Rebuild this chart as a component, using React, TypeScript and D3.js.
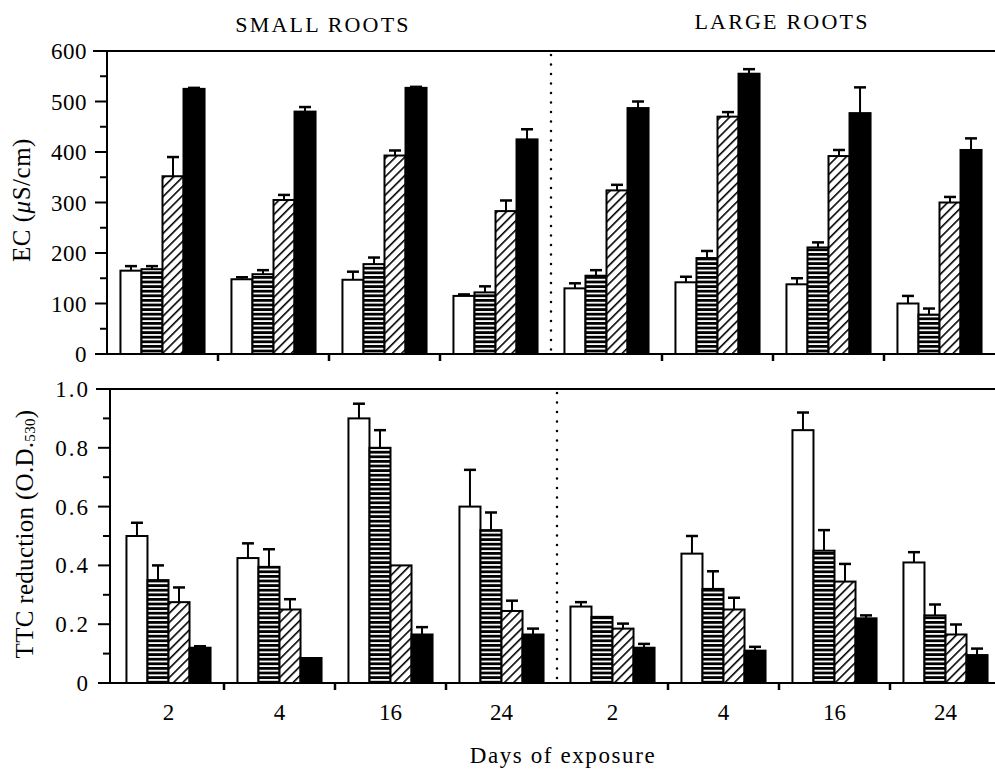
import React from "react";
import * as d3 from "d3";

const days = ["2", "4", "16", "24"];
const rootSizes = ["SMALL ROOTS", "LARGE ROOTS"];
const treatments = ["open", "lined", "hatched", "solid"];

// EC, small roots (2,4,16,24) then large roots (2,4,16,24)
const ecOpen = [165, 148, 147, 115, 130, 142, 138, 100];
const ecOpenErr = [9, 4, 16, 3, 10, 11, 12, 15];
const ecLined = [168, 158, 178, 122, 155, 190, 211, 78];
const ecLinedErr = [6, 8, 13, 12, 11, 14, 10, 12];
const ecHatched = [352, 305, 393, 283, 324, 470, 392, 300];
const ecHatchedErr = [38, 10, 10, 21, 11, 9, 12, 11];
const ecSolid = [525, 480, 527, 425, 487, 555, 477, 404];
const ecSolidErr = [2, 9, 2, 20, 13, 9, 51, 23];

// TTC reduction
const ttcOpen = [0.5, 0.425, 0.9, 0.6, 0.26, 0.44, 0.86, 0.41];
const ttcOpenErr = [0.045, 0.05, 0.05, 0.125, 0.015, 0.06, 0.06, 0.035];
const ttcLined = [0.35, 0.395, 0.8, 0.52, 0.225, 0.32, 0.45, 0.23];
const ttcLinedErr = [0.05, 0.06, 0.06, 0.06, 0, 0.06, 0.07, 0.037];
const ttcHatched = [0.275, 0.25, 0.4, 0.245, 0.185, 0.25, 0.345, 0.165];
const ttcHatchedErr = [0.05, 0.035, 0, 0.035, 0.017, 0.04, 0.06, 0.034];
const ttcSolid = [0.12, 0.085, 0.165, 0.165, 0.12, 0.11, 0.22, 0.095];
const ttcSolidErr = [0.005, 0, 0.025, 0.02, 0.013, 0.013, 0.01, 0.022];

const ecTicks = [0, 100, 200, 300, 400, 500, 600];
const ecMinor = [50, 150, 250, 350, 450, 550];
const ttcTicks = [0, 0.2, 0.4, 0.6, 0.8, 1.0];
const ttcMinor = [0.1, 0.3, 0.5, 0.7, 0.9];

const W = 995;
const H = 769;
const FONT = "'Liberation Serif', 'Times New Roman', serif";
const fills: Record<string, string> = {
  open: "#fff",
  lined: "url(#lined)",
  hatched: "url(#hatched)",
  solid: "#000",
};

const groups = rootSizes.flatMap((r) => days.map((d) => `${r}|${d}`));

type Row = { key: string; t: string; v: number; e: number };

function rows(series: number[][], errs: number[][]): Row[] {
  const out: Row[] = [];
  groups.forEach((g, i) => {
    treatments.forEach((t, j) => {
      out.push({ key: g, t, v: series[j][i], e: errs[j][i] });
    });
  });
  return out;
}

function Panel({
  data,
  left,
  top,
  bottom,
  xRange,
  yMax,
  ticks,
  minor,
  fmt,
  spacing,
  showDays,
}: {
  data: Row[];
  left: number;
  top: number;
  bottom: number;
  xRange: [number, number];
  yMax: number;
  ticks: number[];
  minor: number[];
  fmt: (v: number) => string;
  spacing: number;
  showDays: boolean;
}) {
  const x0 = d3.scaleBand().domain(groups).range(xRange);
  const x1 = d3
    .scaleBand()
    .domain(treatments)
    .range([0, x0.bandwidth()])
    .paddingOuter(0.64)
    .paddingInner(0);
  const y = d3.scaleLinear().domain([0, yMax]).range([bottom, top]);
  const bw = x1.bandwidth();
  const mid = x0(groups[4])!;

  return (
    <g>
      {data.map((d, i) => {
        const bx = x0(d.key)! + x1(d.t)!;
        const cx = bx + bw / 2;
        return (
          <g key={i}>
            {d.e > 0 && (
              <g stroke="#000" strokeWidth={2}>
                <line x1={cx} x2={cx} y1={y(d.v)} y2={y(d.v + d.e)} />
                <line x1={cx - 6} x2={cx + 6} y1={y(d.v + d.e)} y2={y(d.v + d.e)} strokeWidth={2.5} />
              </g>
            )}
            <rect
              x={bx}
              y={y(d.v)}
              width={bw}
              height={y(0) - y(d.v)}
              fill={fills[d.t]}
              stroke="#000"
              strokeWidth={2}
            />
          </g>
        );
      })}
      {/* frame */}
      <line x1={left - 14} x2={W} y1={top} y2={top} stroke="#000" strokeWidth={2} />
      <line x1={left - 12} x2={W} y1={bottom} y2={bottom} stroke="#000" strokeWidth={2} />
      <line x1={left} x2={left} y1={top} y2={bottom} stroke="#000" strokeWidth={2} />
      {ticks.map((t) => (
        <g key={t}>
          <line x1={left - 12} x2={left} y1={y(t)} y2={y(t)} stroke="#000" strokeWidth={2} />
          <text
            x={left - 20}
            y={y(t)}
            dy="0.35em"
            textAnchor="end"
            fontFamily={FONT}
            fontSize={23}
            letterSpacing={spacing}
          >
            {fmt(t)}
          </text>
        </g>
      ))}
      {minor.map((t) => (
        <line key={t} x1={left - 7} x2={left} y1={y(t)} y2={y(t)} stroke="#000" strokeWidth={2} />
      ))}
      {groups.slice(1).map((g, i) =>
        i === 3 ? null : (
          <line key={g} x1={x0(g)!} x2={x0(g)!} y1={bottom} y2={bottom + 7} stroke="#000" strokeWidth={2.5} />
        )
      )}
      <line
        x1={mid}
        x2={mid}
        y1={top + 4}
        y2={bottom - 4}
        stroke="#000"
        strokeWidth={2.5}
        strokeDasharray="0.1 9.4"
        strokeLinecap="round"
      />
      {showDays &&
        groups.map((g) => (
          <text
            key={g}
            x={x0(g)! + x0.bandwidth() / 2}
            y={bottom + 37}
            textAnchor="middle"
            fontFamily={FONT}
            fontSize={23}
          >
            {g.split("|")[1]}
          </text>
        ))}
    </g>
  );
}

export default function App() {
  const ec = rows([ecOpen, ecLined, ecHatched, ecSolid], [ecOpenErr, ecLinedErr, ecHatchedErr, ecSolidErr]);
  const ttc = rows([ttcOpen, ttcLined, ttcHatched, ttcSolid], [ttcOpenErr, ttcLinedErr, ttcHatchedErr, ttcSolidErr]);

  return (
    <div style={{ position: "absolute", left: 0, top: 0, background: "#fff" }}>
      <svg width={W} height={H} style={{ display: "block" }} fontFamily={FONT} fill="#000">
        <defs>
          <pattern id="lined" patternUnits="userSpaceOnUse" width={8} height={4.6}>
            <rect width={8} height={4.6} fill="#fff" />
            <rect y={0} width={8} height={2.8} fill="#000" />
          </pattern>
          <pattern id="hatched" patternUnits="userSpaceOnUse" width={6.5} height={6.5} patternTransform="rotate(45)">
            <rect width={6.5} height={6.5} fill="#fff" />
            <line x1={0} x2={0} y1={0} y2={6.5} stroke="#000" strokeWidth={3.2} />
          </pattern>
        </defs>

        <text x={323} y={32} textAnchor="middle" fontSize={22} letterSpacing={2.2}>
          {rootSizes[0]}
        </text>
        <text x={782} y={29} textAnchor="middle" fontSize={22} letterSpacing={2.2}>
          {rootSizes[1]}
        </text>

        <Panel
          data={ec}
          left={107}
          top={51}
          bottom={354}
          xRange={[107, 995]}
          yMax={600}
          ticks={ecTicks}
          minor={ecMinor}
          fmt={String}
          spacing={0.5}
          showDays={false}
        />
        <Panel
          data={ttc}
          left={110}
          top={389}
          bottom={683}
          xRange={[113, 1001]}
          yMax={1}
          ticks={ttcTicks}
          minor={ttcMinor}
          fmt={(v) => (v === 0 ? "0" : v.toFixed(1))}
          spacing={2}
          showDays={true}
        />

        <text transform="translate(30,200) rotate(-90)" textAnchor="middle" fontSize={25} letterSpacing={0.5}>
          EC (<tspan fontStyle="italic">μ</tspan>S/cm)
        </text>
        <text transform="translate(33,534) rotate(-90)" textAnchor="middle" fontSize={25} letterSpacing={0.3}>
          TTC reduction (O.D.
          <tspan fontSize={15} dy={2}>
            530
          </tspan>
          <tspan dy={-2}>)</tspan>
        </text>

        <text x={563} y={763} textAnchor="middle" fontSize={23} letterSpacing={1.6}>
          Days of exposure
        </text>
      </svg>
    </div>
  );
}
